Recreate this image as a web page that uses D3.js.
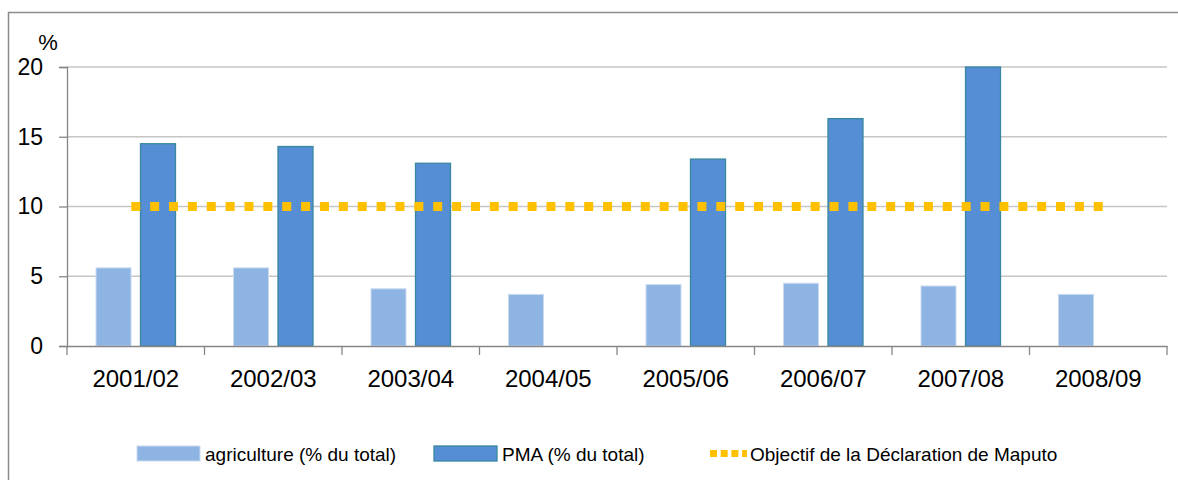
<!DOCTYPE html>
<html><head><meta charset="utf-8">
<script src="https://cdn.jsdelivr.net/npm/d3@7"></script>
<style>body{margin:0;background:#fff}svg{display:block}text{font-family:"Liberation Sans",Arial,sans-serif;fill:#000}</style>
</head><body><svg id="c" width="1178" height="480"></svg>
<script>
const categories = ["2001/02","2002/03","2003/04","2004/05","2005/06","2006/07","2007/08","2008/09"];
const agriculture = [5.6, 5.6, 4.1, 3.7, 4.4, 4.5, 4.3, 3.7];
const pma = [14.5, 14.3, 13.1, null, 13.4, 16.3, 20.0, null];
const maputo = [10, 10, 10, 10, 10, 10, 10, 10];
const yTicks = [0, 5, 10, 15, 20];
const seriesNames = ["agriculture (% du total)", "PMA (% du total)", "Objectif de la Déclaration de Maputo"];

const svg = d3.select("#c");
const W = 1178, H = 480;
const m = {left: 67, right: 11, top: 67, bottom: 134};

svg.append("rect").attr("x", 8.5).attr("y", 12.5).attr("width", 1200).attr("height", 500)
  .attr("fill", "none").attr("stroke", "#8c8c8c").attr("stroke-width", 1.5);

const x0 = d3.scaleBand().domain(categories).range([m.left, W - m.right]).padding(0);
const x1 = d3.scaleBand().domain(["agri", "pma"])
  .range([x0.bandwidth() * 0.211, x0.bandwidth() * 0.789]).paddingInner(0.2135).paddingOuter(0);
const y = d3.scaleLinear().domain([0, 20]).range([H - m.bottom, m.top]);

// gridlines
svg.append("g").selectAll("line").data(yTicks.filter(d => d > 0)).join("line")
  .attr("x1", m.left).attr("x2", W - m.right)
  .attr("y1", d => y(d)).attr("y2", d => y(d))
  .attr("stroke", "#c6c6c6").attr("stroke-width", 1.3);

// y axis
const yAxis = svg.append("g").attr("transform", `translate(${m.left},0)`)
  .call(d3.axisLeft(y).tickValues(yTicks).tickSize(8).tickPadding(16).tickFormat(d3.format("d")));
yAxis.select(".domain").attr("stroke", "#868686").attr("stroke-width", 1.3);
yAxis.selectAll(".tick line").attr("stroke", "#868686").attr("stroke-width", 1.3);
yAxis.selectAll(".tick text").attr("font-size", 23).attr("font-family", "Liberation Sans, Arial, sans-serif").attr("fill", "#000");

svg.append("text").attr("x", 48).attr("y", 50).attr("text-anchor", "middle").attr("font-size", 22).text("%");

// bars
const g = svg.append("g");
categories.forEach((c, i) => {
  g.append("rect").datum(agriculture[i])
    .attr("x", x0(c) + x1("agri")).attr("width", x1.bandwidth())
    .attr("y", d => y(d)).attr("height", d => y(0) - y(d))
    .attr("fill", "#8eb4e3").attr("stroke", "#c9daf0").attr("stroke-width", 1);
  if (pma[i] != null) {
    g.append("rect").datum(pma[i])
      .attr("x", x0(c) + x1("pma")).attr("width", x1.bandwidth())
      .attr("y", d => y(d)).attr("height", d => y(0) - y(d))
      .attr("fill", "#558ed5").attr("stroke", "#3a87a0").attr("stroke-width", 1.3);
  }
});

// x axis
const xAxis = svg.append("g").attr("transform", `translate(0,${y(0)})`)
  .call(d3.axisBottom(x0).tickSize(0).tickPadding(24));
xAxis.select(".domain").attr("stroke", "#868686").attr("stroke-width", 1.3);
xAxis.selectAll(".tick text").attr("font-size", 24).attr("font-family", "Liberation Sans, Arial, sans-serif").attr("fill", "#000");
const bounds = categories.map(c => x0(c)).concat([x0(categories[categories.length - 1]) + x0.bandwidth()]);
svg.append("g").selectAll("line").data(bounds).join("line")
  .attr("x1", d => d).attr("x2", d => d).attr("y1", y(0)).attr("y2", y(0) + 9)
  .attr("stroke", "#868686").attr("stroke-width", 1.3);

// Maputo dotted line
const cx = c => x0(c) + x0.bandwidth() / 2;
const line = d3.line().x(d => d[0]).y(d => y(d[1]));
const pts = categories.map((c, i) => [cx(c), maputo[i]]);
pts[0] = [pts[0][0] - 4.5, pts[0][1]];
pts[pts.length - 1] = [pts[pts.length - 1][0] + 4.5, pts[pts.length - 1][1]];
const len = pts[pts.length - 1][0] - pts[0][0];
const period = (len - 9) / 51;
svg.append("path").attr("d", line(pts)).attr("fill", "none")
  .attr("stroke", "#ffc000").attr("stroke-width", 9)
  .attr("stroke-dasharray", `9,${period - 9}`);

// legend
const lg = svg.append("g");
lg.append("rect").attr("x", 137).attr("y", 446).attr("width", 63).attr("height", 15)
  .attr("fill", "#8eb4e3").attr("stroke", "#c9daf0");
lg.append("text").attr("x", 205).attr("y", 461).attr("font-size", 19).text(seriesNames[0]);
lg.append("rect").attr("x", 434).attr("y", 446).attr("width", 63).attr("height", 15)
  .attr("fill", "#558ed5").attr("stroke", "#3a87a0").attr("stroke-width", 1.3);
lg.append("text").attr("x", 502).attr("y", 461).attr("font-size", 19).text(seriesNames[1]);
lg.append("line").attr("x1", 710).attr("x2", 747).attr("y1", 453.5).attr("y2", 453.5)
  .attr("stroke", "#ffc000").attr("stroke-width", 7).attr("stroke-dasharray", "7,3.7");
lg.append("text").attr("x", 750).attr("y", 461).attr("font-size", 19).text(seriesNames[2]);
</script></body></html>
